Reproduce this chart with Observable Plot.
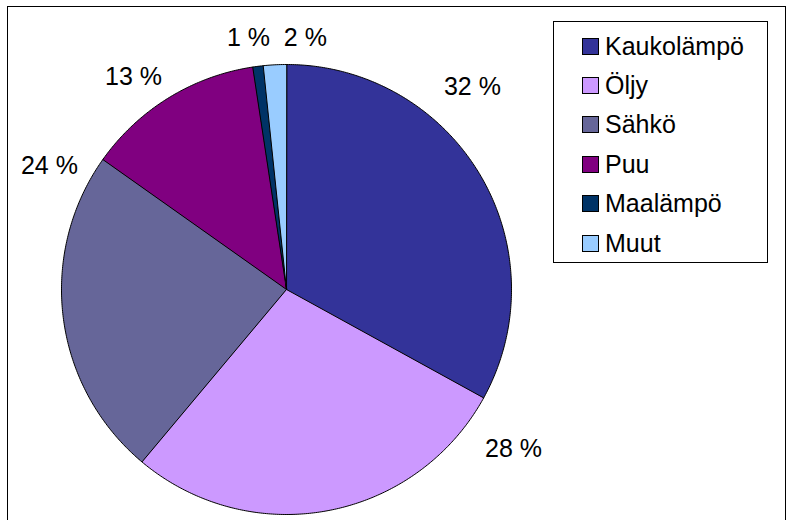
<!DOCTYPE html>
<html>
<head>
<meta charset="utf-8">
<script src="https://cdn.jsdelivr.net/npm/d3@7"></script>
<script src="https://cdn.jsdelivr.net/npm/@observablehq/plot@0.6"></script>
<style>
  html, body { margin: 0; padding: 0; background: #fff; overflow: hidden; }
  #wrap { position: relative; width: 791px; height: 520px; overflow: hidden;
          font-family: "Liberation Sans", Arial, sans-serif; }
  #chart { position: absolute; left: 0; top: 0; }
  #frame { position: absolute; left: 7px; top: 6px; width: 779px; height: 600px;
           border: 1px solid #000; box-sizing: border-box; pointer-events: none; }
  #legend { position: absolute; left: 553px; top: 21px; width: 215px; height: 242px;
            border: 1px solid #000; box-sizing: border-box; background: #fff; }
  .row { position: absolute; left: 0; height: 30px; display: flex; align-items: center;
         font-size: 25px; color: #000; white-space: nowrap; }
  .sw { width: 17px; height: 17px; border: 1px solid #000; box-sizing: border-box;
        margin-left: 28px; margin-right: 6px; }
</style>
</head>
<body>
<div id="wrap">
  <div id="chart"></div>
  <div id="frame"></div>
  <div id="legend"></div>
</div>
<script>
// ---- data ----
const names = ["Kaukolämpö", "Öljy", "Sähkö", "Puu", "Maalämpö", "Muut"];
const values = [33.0, 28.1, 23.7, 12.8, 0.75, 1.65];
const pctLabels = ["32 %", "28 %", "24 %", "13 %", "1 %", "2 %"];
const colors = ["#333399", "#cc99ff", "#666699", "#800080", "#003366", "#99ccff"];
// label placement (degrees clockwise from 12 o'clock, radius as fraction of pie radius)
const labelAngle = [42.5, 125.1, 297.6, 324.2, 351.4, 4.3];
const labelRadius = [1.223, 1.233, 1.189, 1.162, 1.131, 1.121];

// ---- pie geometry (unit circle, y up) ----
const arcs = d3.pie().sort(null).value(d => d)(values);
const points = [];
arcs.forEach((a, i) => {
  const name = names[i];
  points.push({name, x: 0, y: 0});
  const n = Math.max(2, Math.ceil((a.endAngle - a.startAngle) / (Math.PI / 360)));
  for (let k = 0; k <= n; k++) {
    const t = a.startAngle + (a.endAngle - a.startAngle) * k / n;
    points.push({name, x: Math.sin(t), y: Math.cos(t)});
  }
});
const labels = pctLabels.map((text, i) => {
  const t = labelAngle[i] * Math.PI / 180;
  return {text, x: labelRadius[i] * Math.sin(t), y: labelRadius[i] * Math.cos(t)};
});

const cx = 286, cy = 289, R = 225;
const plot = Plot.plot({
  width: 791,
  height: 520,
  margin: 0,
  style: {fontFamily: "Liberation Sans, Arial, sans-serif", background: "transparent"},
  x: {domain: [-1, 1], range: [cx - R, cx + R], axis: null},
  y: {domain: [-1, 1], range: [cy + R, cy - R], axis: null},
  color: {domain: names, range: colors},
  marks: [
    Plot.line(points, {x: "x", y: "y", z: "name", fill: "name", stroke: "#000",
                       strokeWidth: 1, curve: "linear-closed", strokeLinejoin: "round"}),
    Plot.text(labels, {x: "x", y: "y", text: "text", fontSize: 25, fill: "#000"})
  ]
});
document.getElementById("chart").appendChild(plot);

// ---- legend ----
const legend = document.getElementById("legend");
names.forEach((name, i) => {
  const row = document.createElement("div");
  row.className = "row";
  row.style.top = (9 + i * 39.4) + "px";
  const sw = document.createElement("div");
  sw.className = "sw";
  sw.style.background = colors[i];
  const tx = document.createElement("span");
  tx.textContent = name;
  row.appendChild(sw);
  row.appendChild(tx);
  legend.appendChild(row);
});
</script>
</body>
</html>
